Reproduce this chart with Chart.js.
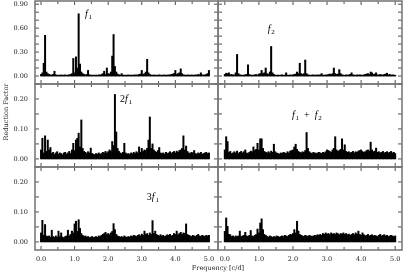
<!DOCTYPE html>
<html>
<head>
<meta charset="utf-8">
<script src="https://cdn.jsdelivr.net/npm/chart.js@4.4.1/dist/chart.umd.min.js"></script>
<style>
  html, body { margin: 0; padding: 0; background: #fff; }
  #wrap { position: relative; width: 403px; height: 272px; background: #fff; }
  #wrap canvas { position: absolute; left: 0; top: 0; }
</style>
</head>
<body>
<div id="wrap"></div>
<script>
// frequency grid step (c/d), spectra sampled from 0.0 to 5.0
var STEP = 0.04;

// reduction factor
var powF1 = [
  0.02, 0.04, 0.16, 0.51, 0.05, 0.03, 0.02, 0.015, 0.012, 0.02,
  0.06, 0.015, 0.01, 0.012, 0.01, 0.014, 0.01, 0.012, 0.015, 0.01,
  0.012, 0.015, 0.02, 0.03, 0.22, 0.04, 0.24, 0.10, 0.78, 0.15,
  0.05, 0.03, 0.02, 0.015, 0.02, 0.07, 0.015, 0.012, 0.01, 0.012,
  0.01, 0.012, 0.01, 0.015, 0.012, 0.02, 0.03, 0.06, 0.02, 0.10,
  0.03, 0.025, 0.05, 0.25, 0.52, 0.12, 0.05, 0.025, 0.015, 0.012,
  0.03, 0.012, 0.01, 0.012, 0.01, 0.014, 0.01, 0.012, 0.01, 0.014,
  0.012, 0.015, 0.012, 0.02, 0.025, 0.07, 0.02, 0.03, 0.05, 0.21,
  0.04, 0.02, 0.012, 0.01, 0.014, 0.01, 0.012, 0.01, 0.015, 0.012,
  0.01, 0.012, 0.014, 0.01, 0.012, 0.015, 0.012, 0.02, 0.025, 0.03,
  0.07, 0.02, 0.03, 0.04, 0.09, 0.03, 0.015, 0.012, 0.01, 0.014,
  0.012, 0.01, 0.014, 0.012, 0.01, 0.015, 0.012, 0.02, 0.015, 0.04,
  0.015, 0.012, 0.014, 0.02, 0.03, 0.07
];
var powF2 = [
  0.02, 0.035, 0.03, 0.04, 0.015, 0.02, 0.012, 0.015, 0.04, 0.27,
  0.03, 0.015, 0.012, 0.01, 0.012, 0.015, 0.02, 0.14, 0.02, 0.012,
  0.01, 0.012, 0.015, 0.02, 0.012, 0.025, 0.03, 0.07, 0.03, 0.04,
  0.10, 0.03, 0.02, 0.05, 0.37, 0.04, 0.02, 0.012, 0.01, 0.012,
  0.01, 0.012, 0.015, 0.01, 0.012, 0.04, 0.012, 0.01, 0.014, 0.012,
  0.015, 0.02, 0.025, 0.05, 0.03, 0.16, 0.03, 0.02, 0.03, 0.20,
  0.03, 0.015, 0.012, 0.01, 0.012, 0.015, 0.01, 0.012, 0.014, 0.012,
  0.015, 0.03, 0.012, 0.01, 0.015, 0.012, 0.02, 0.025, 0.02, 0.03,
  0.10, 0.03, 0.02, 0.025, 0.08, 0.03, 0.015, 0.012, 0.01, 0.014,
  0.012, 0.015, 0.02, 0.04, 0.015, 0.012, 0.01, 0.014, 0.012, 0.015,
  0.012, 0.01, 0.015, 0.02, 0.025, 0.03, 0.02, 0.05, 0.04, 0.02,
  0.025, 0.04, 0.015, 0.012, 0.02, 0.015, 0.012, 0.02, 0.025, 0.035,
  0.015, 0.02, 0.012, 0.015, 0.012, 0.01
];
var pow2F1 = [
  0.03, 0.069, 0.02, 0.077, 0.025, 0.063, 0.03, 0.038, 0.018, 0.022,
  0.015, 0.02, 0.024, 0.016, 0.02, 0.018, 0.014, 0.02, 0.022, 0.016,
  0.02, 0.025, 0.018, 0.03, 0.052, 0.028, 0.063, 0.069, 0.086, 0.04,
  0.13, 0.035, 0.025, 0.022, 0.018, 0.024, 0.02, 0.036, 0.018, 0.016,
  0.014, 0.018, 0.016, 0.02, 0.015, 0.018, 0.022, 0.02, 0.025, 0.02,
  0.024, 0.03, 0.026, 0.058, 0.045, 0.215, 0.09, 0.035, 0.025, 0.02,
  0.018, 0.022, 0.052, 0.02, 0.016, 0.018, 0.015, 0.02, 0.017, 0.022,
  0.018, 0.024, 0.02, 0.04, 0.022, 0.035, 0.025, 0.03, 0.028, 0.035,
  0.063, 0.14, 0.035, 0.05, 0.03, 0.025, 0.022, 0.028, 0.038, 0.02,
  0.018, 0.02, 0.016, 0.022, 0.018, 0.02, 0.024, 0.018, 0.022, 0.025,
  0.02, 0.026, 0.022, 0.028, 0.03, 0.035, 0.077, 0.03, 0.043, 0.025,
  0.02, 0.018, 0.022, 0.02, 0.028, 0.018, 0.016, 0.02, 0.018, 0.022,
  0.016, 0.018, 0.02, 0.022, 0.018, 0.02
];
var powF1F2 = [
  0.03, 0.074, 0.058, 0.022, 0.025, 0.018, 0.02, 0.024, 0.02, 0.026,
  0.018, 0.022, 0.025, 0.02, 0.024, 0.03, 0.02, 0.018, 0.022, 0.026,
  0.024, 0.04, 0.028, 0.032, 0.052, 0.03, 0.067, 0.067, 0.035, 0.025,
  0.022, 0.02, 0.024, 0.02, 0.026, 0.022, 0.049, 0.024, 0.02, 0.018,
  0.016, 0.02, 0.018, 0.022, 0.02, 0.018, 0.024, 0.02, 0.026, 0.028,
  0.03, 0.04, 0.049, 0.032, 0.025, 0.022, 0.02, 0.024, 0.022, 0.028,
  0.088, 0.035, 0.024, 0.02, 0.018, 0.022, 0.02, 0.018, 0.02, 0.022,
  0.02, 0.018, 0.022, 0.02, 0.024, 0.03, 0.028, 0.025, 0.022, 0.03,
  0.035, 0.074, 0.03, 0.025, 0.028, 0.032, 0.067, 0.03, 0.047, 0.025,
  0.022, 0.024, 0.02, 0.022, 0.025, 0.02, 0.024, 0.022, 0.026, 0.028,
  0.03, 0.025, 0.022, 0.024, 0.028, 0.03, 0.026, 0.056, 0.03, 0.024,
  0.026, 0.036, 0.022, 0.024, 0.02, 0.022, 0.025, 0.02, 0.022, 0.024,
  0.02, 0.022, 0.025, 0.02, 0.022, 0.018
];
var pow3F1 = [
  0.03, 0.072, 0.022, 0.058, 0.02, 0.018, 0.02, 0.016, 0.039, 0.018,
  0.015, 0.02, 0.016, 0.036, 0.018, 0.03, 0.016, 0.014, 0.018, 0.02,
  0.039, 0.02, 0.025, 0.036, 0.03, 0.06, 0.069, 0.035, 0.074, 0.045,
  0.028, 0.022, 0.018, 0.02, 0.016, 0.018, 0.014, 0.016, 0.018, 0.015,
  0.016, 0.018, 0.015, 0.02, 0.018, 0.022, 0.025, 0.028, 0.032, 0.025,
  0.028, 0.024, 0.03, 0.035, 0.061, 0.041, 0.025, 0.02, 0.018, 0.016,
  0.018, 0.015, 0.02, 0.017, 0.015, 0.018, 0.016, 0.02, 0.018, 0.022,
  0.02, 0.018, 0.022, 0.024, 0.02, 0.026, 0.022, 0.036, 0.025, 0.028,
  0.022, 0.03, 0.025, 0.071, 0.028, 0.036, 0.025, 0.022, 0.02, 0.024,
  0.02, 0.022, 0.018, 0.02, 0.024, 0.022, 0.025, 0.02, 0.022, 0.028,
  0.025, 0.036, 0.024, 0.028, 0.032, 0.025, 0.03, 0.028, 0.06, 0.025,
  0.022, 0.02, 0.018, 0.022, 0.02, 0.018, 0.022, 0.025, 0.02, 0.018,
  0.022, 0.02, 0.018, 0.022, 0.02, 0.022
];
var powResid = [
  0.035, 0.08, 0.052, 0.025, 0.024, 0.018, 0.02, 0.016, 0.02, 0.018,
  0.02, 0.036, 0.018, 0.02, 0.022, 0.032, 0.02, 0.018, 0.022, 0.038,
  0.02, 0.018, 0.022, 0.025, 0.043, 0.03, 0.063, 0.077, 0.041, 0.025,
  0.022, 0.018, 0.016, 0.02, 0.018, 0.015, 0.018, 0.016, 0.02, 0.018,
  0.016, 0.018, 0.02, 0.018, 0.022, 0.02, 0.018, 0.022, 0.025, 0.024,
  0.028, 0.041, 0.03, 0.069, 0.036, 0.025, 0.022, 0.02, 0.018, 0.022,
  0.02, 0.018, 0.022, 0.02, 0.018, 0.02, 0.022, 0.02, 0.024, 0.022,
  0.025, 0.022, 0.028, 0.025, 0.03, 0.026, 0.028, 0.024, 0.03, 0.026,
  0.028, 0.025, 0.03, 0.027, 0.024, 0.028, 0.026, 0.03, 0.025, 0.028,
  0.024, 0.026, 0.022, 0.025, 0.028, 0.024, 0.03, 0.026, 0.036, 0.025,
  0.022, 0.03, 0.024, 0.02, 0.022, 0.025, 0.02, 0.022, 0.024, 0.02,
  0.022, 0.02, 0.018, 0.022, 0.025, 0.02, 0.022, 0.024, 0.02, 0.022,
  0.018, 0.02, 0.022, 0.02, 0.018, 0.02
];

// ticks
var freqTicks = [0, 0.5, 1, 1.5, 2, 2.5, 3, 3.5, 4, 4.5, 5];
var freqLabels = [0, 1, 2, 3, 4, 5];
var topTicks = [0, 0.1, 0.2, 0.3, 0.4, 0.5, 0.6, 0.7, 0.8, 0.9];
var topLabels = [0, 0.3, 0.6, 0.9];
var lowTicks = [0, 0.05, 0.1, 0.15, 0.2, 0.25];
var lowLabels = [0, 0.1, 0.2];

var freq = powF1.map(function (v, i) { return +(i * STEP).toFixed(2); });

var W = 403, H = 272;
var wrap = document.getElementById("wrap");
var tickFont = '6.5px "DejaVu Serif"';

function note(ctx, x0, y0, parts) {
  var x = x0;
  ctx.fillStyle = "#000";
  ctx.textAlign = "left";
  ctx.textBaseline = "alphabetic";
  parts.forEach(function (p) {
    if (p[1] == "i") ctx.font = 'italic 10px "Liberation Serif"';
    else if (p[1] == "s") ctx.font = '7px "Liberation Serif"';
    else ctx.font = '10px "Liberation Serif"';
    ctx.fillText(p[0], x, p[1] == "s" ? y0 + 2 : y0);
    x += ctx.measureText(p[0]).width + (p[1] == "i" ? 0.8 : 0);
  });
}

function framePlugin(cfg) {
  return {
    id: "frame",
    afterDraw: function (chart) {
      var ctx = chart.ctx, a = chart.chartArea;
      var xs = chart.scales.x, ys = chart.scales.y;
      ctx.save();
      // ticks, inward on all sides
      ctx.strokeStyle = "#222";
      ctx.lineWidth = 0.8;
      ctx.beginPath();
      freqTicks.forEach(function (v) {
        var px = xs.getPixelForValue(v);
        var len = Number.isInteger(v) ? 4 : 3;
        ctx.moveTo(px, a.bottom); ctx.lineTo(px, a.bottom - len);
        ctx.moveTo(px, a.top); ctx.lineTo(px, a.top + len);
      });
      cfg.yTicks.forEach(function (v) {
        var py = ys.getPixelForValue(v);
        ctx.moveTo(a.left, py); ctx.lineTo(a.left + 4, py);
        ctx.moveTo(a.right, py); ctx.lineTo(a.right - 4, py);
      });
      ctx.stroke();
      // frame
      ctx.strokeStyle = "#7a7a7a";
      ctx.lineWidth = 1.6;
      ctx.strokeRect(a.left, a.top, a.right - a.left, a.bottom - a.top);

      ctx.fillStyle = "#222";
      ctx.font = tickFont;
      if (cfg.yLabels) {
        ctx.textAlign = "right";
        ctx.textBaseline = "middle";
        cfg.yLabels.forEach(function (v) {
          ctx.fillText(v.toFixed(2), a.left - 7, ys.getPixelForValue(v));
        });
      }
      if (cfg.xLabels) {
        ctx.textAlign = "center";
        ctx.textBaseline = "middle";
        freqLabels.forEach(function (v) {
          ctx.fillText(v.toFixed(1), xs.getPixelForValue(v), a.bottom + 9);
        });
      }
      if (cfg.note) {
        note(ctx, xs.getPixelForValue(cfg.note[0]), ys.getPixelForValue(cfg.note[1]), cfg.note[2]);
      }
      if (cfg.titles) {
        ctx.fillStyle = "#222";
        ctx.font = '6.5px "DejaVu Serif"';
        ctx.textAlign = "center";
        ctx.textBaseline = "middle";
        ctx.fillText("Frequency [c/d]", 218, 268);
        ctx.save();
        ctx.translate(6, 112);
        ctx.rotate(-Math.PI / 2);
        ctx.fillText("Reduction Factor", 0, 0);
        ctx.restore();
      }
      ctx.restore();
    }
  };
}

function panel(values, cfg) {
  var canvas = document.createElement("canvas");
  canvas.width = W;
  canvas.height = H;
  wrap.appendChild(canvas);
  new Chart(canvas, {
    type: "bar",
    data: {
      datasets: [{
        data: values.map(function (v, i) { return { x: freq[i], y: v }; }),
        backgroundColor: "#000",
        borderWidth: 0,
        barPercentage: 1,
        categoryPercentage: 1
      }]
    },
    options: {
      responsive: false,
      animation: false,
      events: [],
      layout: { padding: cfg.pad },
      plugins: { legend: { display: false }, tooltip: { enabled: false } },
      scales: {
        x: { type: "linear", display: false, offset: false, min: cfg.xmin, max: cfg.xmax },
        y: { display: false, min: cfg.ymin, max: cfg.ymax }
      }
    },
    plugins: [framePlugin(cfg)]
  });
}

var leftPad = { left: 35, right: W - 218 };
var rightPad = { left: 218, right: 1 };
var rows = [
  { top: 1, bottom: H - 84 },
  { top: 84, bottom: H - 167 },
  { top: 167, bottom: H - 250 }
];
function pad(col, row) {
  return { left: col.left, right: col.right, top: row.top, bottom: row.bottom };
}

panel(powF1, {
  pad: pad(leftPad, rows[0]), xmin: -0.18, xmax: 5.27, ymin: -0.1, ymax: 0.94,
  yTicks: topTicks, yLabels: topLabels,
  note: [1.31, 0.74, [["f", "i"], ["1", "s"]]]
});
panel(powF2, {
  pad: pad(rightPad, rows[0]), xmin: -0.2, xmax: 5.2, ymin: -0.1, ymax: 0.94,
  yTicks: topTicks,
  note: [1.26, 0.55, [["f", "i"], ["2", "s"]]]
});
panel(pow2F1, {
  pad: pad(leftPad, rows[1]), xmin: -0.18, xmax: 5.27, ymin: -0.027, ymax: 0.25,
  yTicks: lowTicks, yLabels: lowLabels,
  note: [2.35, 0.19, [["2", "r"], ["f", "i"], ["1", "s"]]]
});
panel(powF1F2, {
  pad: pad(rightPad, rows[1]), xmin: -0.2, xmax: 5.2, ymin: -0.027, ymax: 0.25,
  yTicks: lowTicks,
  note: [1.97, 0.137, [["f", "i"], ["1", "s"], ["  +  ", "r"], ["f", "i"], ["2", "s"]]]
});
panel(pow3F1, {
  pad: pad(leftPad, rows[2]), xmin: -0.18, xmax: 5.27, ymin: -0.027, ymax: 0.25,
  yTicks: lowTicks, yLabels: lowLabels, xLabels: true, titles: true,
  note: [3.15, 0.14, [["3", "r"], ["f", "i"], ["1", "s"]]]
});
panel(powResid, {
  pad: pad(rightPad, rows[2]), xmin: -0.2, xmax: 5.2, ymin: -0.027, ymax: 0.25,
  yTicks: lowTicks, xLabels: true
});
</script>
</body>
</html>
